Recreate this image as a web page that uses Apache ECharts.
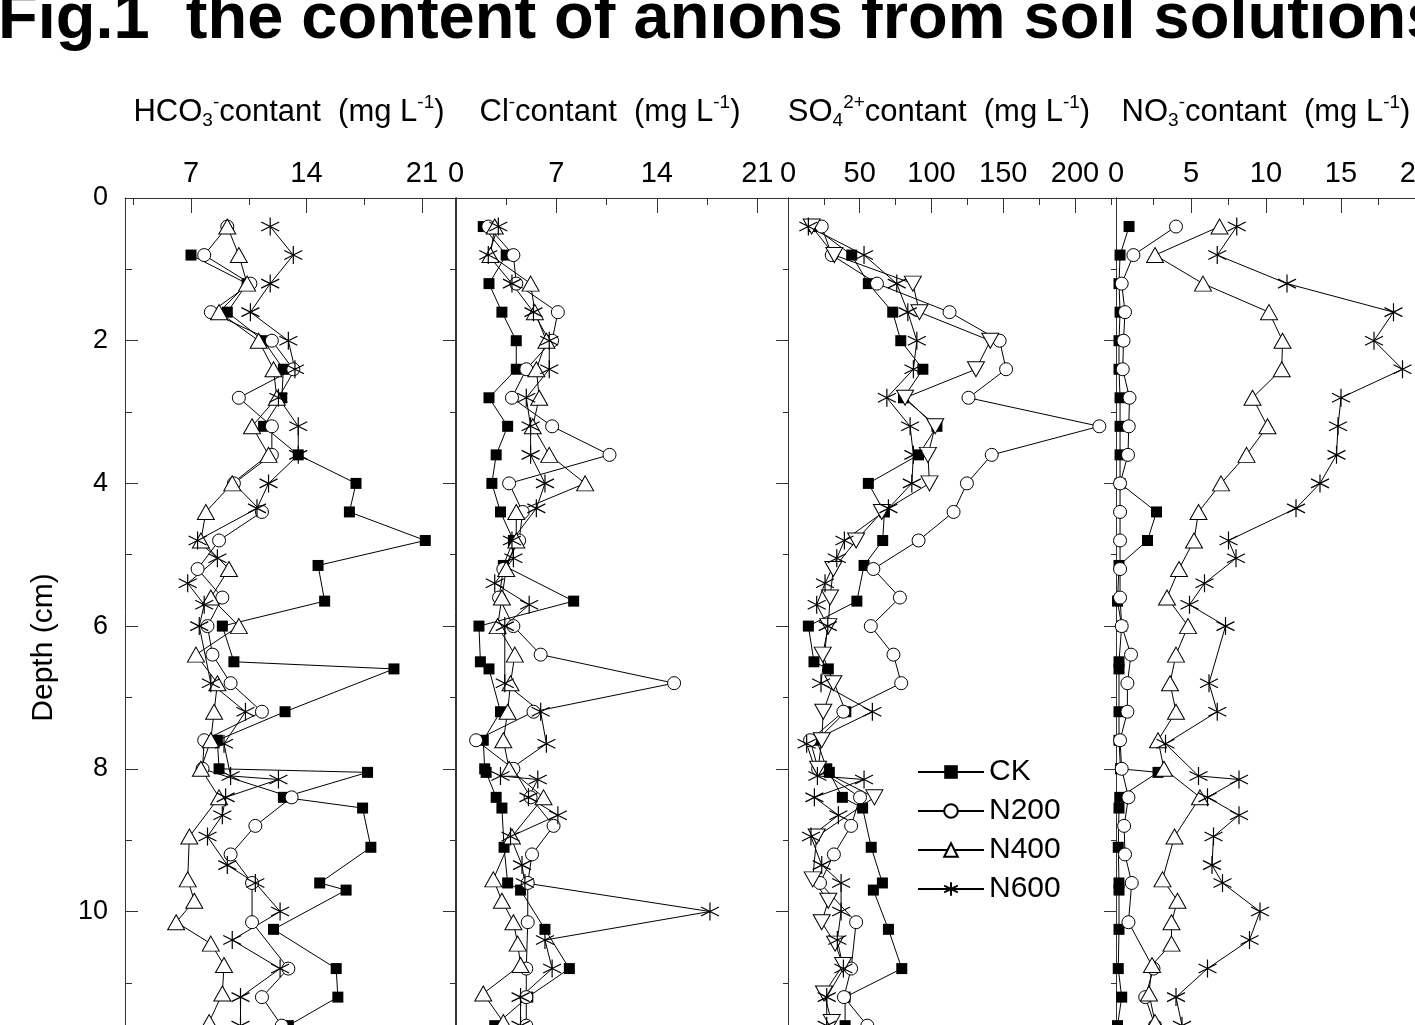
<!DOCTYPE html>
<html>
<head>
<meta charset="utf-8">
<title>anions in soil solution</title>
<script src="https://cdn.jsdelivr.net/npm/echarts@6/dist/echarts.min.js"></script>
<style>
  html, body { margin: 0; padding: 0; background: #fff; }
  #chart { width: 1415px; height: 1025px; }
</style>
</head>
<body>
<div id="chart"></div>
<script>
// sampling depths (cm), one list per treatment
var depthCK = [0.4, 0.8, 1.2, 1.6, 2.0, 2.4, 2.8, 3.2, 3.6, 4.0, 4.4, 4.8, 5.15, 5.65, 6.0, 6.5, 6.6, 7.2, 7.6, 8.0, 8.05, 8.4, 8.55, 9.1, 9.6, 9.7, 10.25, 10.8, 11.2, 11.6]
var depthN200 = [0.4, 0.8, 1.2, 1.6, 2.0, 2.4, 2.8, 3.2, 3.6, 4.0, 4.4, 4.8, 5.2, 5.6, 6.0, 6.4, 6.8, 7.2, 7.6, 8.0, 8.4, 8.8, 9.2, 9.6, 10.15, 10.8, 11.2, 11.6]
var depthN400 = [0.4, 0.8, 1.2, 1.6, 2.0, 2.4, 2.8, 3.2, 3.6, 4.0, 4.4, 4.8, 5.2, 5.6, 6.0, 6.4, 6.8, 7.2, 7.6, 8.0, 8.4, 8.95, 9.55, 9.85, 10.15, 10.45, 10.75, 11.15, 11.55]
var depthN600 = [0.4, 0.8, 1.2, 1.6, 2.0, 2.4, 2.8, 3.2, 3.6, 4.0, 4.35, 4.8, 5.05, 5.4, 5.7, 6.0, 6.8, 7.2, 7.65, 8.1, 8.15, 8.4, 8.65, 8.95, 9.35, 9.6, 10.0, 10.4, 10.8, 11.2, 11.6]

// HCO3- (mg/L)
var hco3CK = [null, 7.0, 10.4, 9.2, 11.4, 12.6, 12.5, 11.4, 13.5, 17.0, 16.6, 21.2, 14.7, 15.1, 8.9, 9.6, 19.3, 12.7, 8.6, 8.7, 17.7, 12.6, 17.4, 17.9, 14.8, 16.4, 12.0, 15.8, 15.9, 12.9]
var hco3N200 = [9.2, 7.8, 10.6, 8.2, 11.9, 13.2, 9.9, 11.9, 11.9, 9.6, 11.3, 8.7, 7.4, 8.9, 8.0, 8.3, 9.4, 11.3, 7.8, 7.7, 13.1, 10.9, 9.4, 10.7, 10.7, 12.9, 11.3, 12.5]
var hco3N400 = [9.2, 9.9, 10.4, 8.7, 11.1, 12.0, 12.2, 10.7, 11.7, 9.5, 7.9, 7.6, 9.3, 8.2, 9.9, 7.3, 8.6, 8.4, 8.2, 7.6, 8.7, 6.9, 6.8, 7.2, 6.1, 8.2, 9.0, 8.9, 8.1]
var hco3N600 = [11.8, 13.2, 11.8, 10.6, 12.9, 13.3, 12.3, 13.5, 13.5, 11.7, 11.0, 7.4, 8.6, 6.8, 7.8, 7.5, 8.2, 10.3, 9.0, 9.4, 12.3, 9.1, 8.9, 8.0, 9.2, 10.9, 12.4, 9.5, 12.4, 10.0, 10.0]

// Cl- (mg/L)
var clCK = [1.9, 3.5, 2.3, 3.2, 4.2, 4.2, 2.3, 3.6, 2.8, 2.5, 3.1, 4.0, 3.3, 8.2, 1.6, 1.7, 2.3, 3.1, 1.9, 2.0, 2.1, 2.8, 3.2, 3.35, 3.6, 4.5, 6.2, 7.9, 5.0, 2.7]
var clN200 = [2.25, 4.0, 4.2, 7.1, 6.7, 4.9, 3.9, 6.7, 10.7, 3.7, 4.65, 4.4, 3.3, 3.0, 4.0, 5.9, 15.2, 5.4, 1.4, 4.0, 5.2, 6.8, 5.3, 5.0, 5.0, 4.9, 4.9, 4.9]
var clN400 = [2.7, 2.4, 5.2, 5.5, 6.3, 5.6, 5.8, 5.35, 6.5, 9.0, 4.2, 4.2, 3.5, 3.2, 2.9, 4.1, 3.8, 3.6, 3.3, 3.7, 6.1, 3.9, 2.6, 3.2, 4.0, 4.3, 4.5, 1.9, 3.3]
var clN600 = [2.95, 2.25, 3.9, 5.4, 6.5, 6.5, 4.9, 5.2, 5.2, 6.2, 5.6, 3.9, 4.0, 2.7, 5.1, 3.4, 3.4, 5.9, 6.3, 3.1, 5.7, 5.05, 7.1, 3.8, 4.6, 4.8, 17.7, 6.2, 6.7, 4.5, 4.5]

// SO4 (mg/L)
var so4CK = [17.7, 44.4, 56, 73, 78.6, 94, 80.5, 103.8, 91, 56, 67.2, 66, 53, 48, 14.2, 18.1, 28.1, 40.3, 20, 27, 28.8, 37.9, 52, 58, 65.8, 59.5, 70, 79.3, 39.8, 39.8]
var so4N200 = [23.5, 30.5, 62, 112.6, 147.5, 152, 125.8, 217, 142, 124.7, 115.4, 91, 59.5, 78, 57.7, 73.5, 78.9, 38.6, 15.4, 21, 50.2, 44, 32, 22.3, 47.5, 44, 39, 55.3]
var so4N400 = [16.5, 32.3, 87, 91.6, 141, 131, 81.6, 102.6, 97.5, 98.6, 65.4, 47.5, 31.6, 29.3, 28.1, 24.2, 31.6, 24.6, 23.5, 21, 60.2, 20, 17.2, 28.1, 23.5, 32.8, 38.4, 25.1, 30.5]
var so4N600 = [14.2, 53, 75.8, 83.5, 89.8, 87.4, 68.9, 85.1, 87.4, 86.3, 70, 39.3, 34, 25.8, 20, 27.7, 23, 58.8, 13, 20.5, 53, 18.4, 35.1, 16, 23.5, 37, 37, 34.4, 38.6, 27, 27]

// NO3- (mg/L)
var no3CK = [0.87, 0.27, 0.2, 0.27, 0.2, 0.2, 0.27, 0.27, 0.27, 0.27, 2.7, 2.1, 0.2, 0.1, 0.38, 0.2, 0.2, 0.2, 0.2, 0.3, 2.8, 0.25, 0.2, 0.15, 0.2, 0.2, 0.2, 0.15, 0.38, 0.1]
var no3N200 = [4.0, 1.16, 0.38, 0.6, 0.5, 0.45, 0.9, 0.85, 0.8, 0.27, 0.27, 0.27, 0.27, 0.27, 0.38, 1.0, 0.76, 0.76, 0.27, 0.38, 0.83, 0.54, 0.6, 1.05, 0.83, 2.5, 1.95, 2.6]
var no3N400 = [6.9, 2.6, 5.8, 10.2, 11.1, 11.05, 9.1, 10.1, 8.7, 7.0, 5.5, 5.2, 4.2, 3.4, 4.8, 4.0, 3.6, 4.0, 2.8, 3.2, 5.6, 3.9, 3.1, 4.1, 3.7, 3.7, 2.4, 2.2, 2.6]
var no3N600 = [8.05, 6.75, 11.4, 18.5, 17.2, 19.1, 15.0, 14.8, 14.7, 13.6, 12.0, 7.5, 8.0, 5.9, 4.9, 7.3, 6.2, 6.75, 3.3, 5.5, 8.2, 6.1, 8.2, 6.5, 6.4, 7.1, 9.6, 8.9, 6.1, 4.0, 4.4]

var treatments = ['CK', 'N200', 'N400', 'N600']

// top axis ticks (labelled / unlabelled)
var hco3Ticks = [7, 14, 21], hco3Minor = [3.5, 10.5, 17.5]
var clTicks = [0, 7, 14, 21], clMinor = [3.5, 10.5, 17.5]
var so4Ticks = [0, 50, 100, 150, 200], so4Minor = [25, 75, 125, 175, 225]
var no3Ticks = [0, 5, 10, 15, 20], no3Minor = [2.5, 7.5, 12.5, 17.5]

var FONT = "'Liberation Sans', Arial, Helvetica, sans-serif"
var AXIS = '#333'
var asterisk = 'path://M10,0L10,20M1.34,5L18.66,15M1.34,15L18.66,5'

var panels = [
  { left: 125, min: 3, max: 23, ticks: hco3Ticks, minor: hco3Minor, vals: [hco3CK, hco3N200, hco3N400, hco3N600],
    title: '{a|HCO}{b|3}{c|-}{a|contant  (mg L}{c|-1}{a|)}', tx: 289 },
  { left: 456, min: 0, max: 23, ticks: clTicks, minor: clMinor, vals: [clCK, clN200, clN400, clN600],
    title: '{a|Cl}{c|-}{a|contant  (mg L}{c|-1}{a|)}', tx: 610 },
  { left: 788, min: 0, max: 230, ticks: so4Ticks, minor: so4Minor, vals: [so4CK, so4N200, so4N400, so4N600],
    title: '{a|SO}{b|4}{c|2+}{a|contant  (mg L}{c|-1}{a|)}', tx: 939 },
  { left: 1116, min: 0, max: 22, ticks: no3Ticks, minor: no3Minor, vals: [no3CK, no3N200, no3N400, no3N600],
    title: '{a|NO}{b|3}{c|-}{a|contant  (mg L}{c|-1}{a|)}', tx: 1266 }
]
var depths = [depthCK, depthN200, depthN400, depthN600]

var richTitle = {
  a: { fontSize: 31, fontFamily: FONT, color: '#000' },
  b: { fontSize: 19, fontFamily: FONT, color: '#000', padding: [18, 0, 0, 0] },
  c: { fontSize: 19, fontFamily: FONT, color: '#000', padding: [0, 0, 18, 0] }
}

function symbolStyle (k, p) {
  if (k === 0) return { symbol: 'rect', symbolSize: 11, itemStyle: { color: '#000' } }
  if (k === 1) return { symbol: 'circle', symbolSize: 13, itemStyle: { color: '#fff', borderColor: '#000', borderWidth: 1 } }
  if (k === 2) return { symbol: 'triangle', symbolSize: [17, 15], symbolRotate: p === 2 ? 180 : 0,
    itemStyle: { color: '#fff', borderColor: '#000', borderWidth: 1 } }
  return { symbol: asterisk, symbolSize: 18, itemStyle: { color: 'rgba(0,0,0,0)', borderColor: '#000', borderWidth: 1.2 } }
}

var grid = [], xAxis = [], yAxis = [], series = [], graphic = []
var yMax = 12.6

panels.forEach(function (p, i) {
  grid.push({ left: p.left, top: 198, width: 330, height: yMax * 71.35, outerBoundsMode: 'none', containLabel: false })
  xAxis.push({
    gridIndex: i, type: 'value', position: 'top', min: p.min, max: p.max,
    axisLine: { show: true, lineStyle: { color: AXIS, width: 1 } },
    axisTick: { inside: true, length: 15, customValues: p.ticks, lineStyle: { color: AXIS } },
    axisLabel: { customValues: p.ticks, fontSize: 29, margin: 10, color: '#000', fontFamily: FONT },
    splitLine: { show: false }
  })
  xAxis.push({
    gridIndex: i, type: 'value', position: 'top', min: p.min, max: p.max,
    axisLine: { show: false },
    axisTick: { inside: true, length: 7, customValues: p.minor, lineStyle: { color: AXIS } },
    axisLabel: { show: false },
    splitLine: { show: false }
  })
  yAxis.push({
    gridIndex: i, type: 'value', inverse: true, min: 0, max: yMax, interval: 2, position: 'left',
    axisLine: { show: true, lineStyle: { color: AXIS, width: 1 } },
    axisTick: { show: i === 0, inside: true, length: 13, lineStyle: { color: AXIS } },
    minorTick: { show: i === 0, splitNumber: 2, length: 7, lineStyle: { color: AXIS } },
    axisLabel: { show: i === 0, fontSize: 27, margin: 17, color: '#000', fontFamily: FONT,
      formatter: function (v) { return v > 12 ? '' : v } },
    splitLine: { show: false },
    name: i === 0 ? 'Depth (cm)' : '',
    nameLocation: 'middle', nameGap: 66,
    nameTextStyle: { fontSize: 30, color: '#000', fontFamily: FONT }
  })
  yAxis.push({
    gridIndex: i, type: 'value', inverse: true, min: 0, max: yMax, interval: 2, position: 'right',
    axisLine: { show: true, lineStyle: { color: AXIS, width: 1 } },
    axisTick: { show: true, inside: true, length: 12, lineStyle: { color: AXIS } },
    minorTick: { show: true, splitNumber: 2, length: 5, lineStyle: { color: AXIS } },
    axisLabel: { show: false },
    splitLine: { show: false }
  })
  treatments.forEach(function (name, k) {
    var vals = p.vals[k]
    var data = depths[k].map(function (d, j) { return [vals[j], d] })
      .filter(function (pt) { return pt[0] != null })
    series.push(Object.assign({
      name: name, type: 'line', xAxisIndex: 2 * i, yAxisIndex: 2 * i,
      data: data,
      showAllSymbol: true,
      lineStyle: { color: '#000', width: 1 },
      emphasis: { disabled: true },
      animation: false
    }, symbolStyle(k, i)))
  })
  graphic.push({
    type: 'text', x: p.tx, y: 112,
    style: { text: p.title, rich: richTitle, align: 'center', verticalAlign: 'middle' }
  })
})

graphic.push({
  type: 'text', x: -2, y: 20,
  style: { text: 'Fig.1  the content of anions from soil solutions', fontSize: 65, fontWeight: 'bold',
    fontFamily: FONT, fill: '#000', align: 'left', verticalAlign: 'middle' }
})

var chart = echarts.init(document.getElementById('chart'))
chart.setOption({
  backgroundColor: '#fff',
  animation: false,
  grid: grid,
  xAxis: xAxis,
  yAxis: yAxis,
  legend: {
    data: treatments,
    orient: 'vertical',
    left: 912, top: 752,
    itemWidth: 66, itemHeight: 17, itemGap: 9,
    selectedMode: false,
    textStyle: { fontSize: 30, color: '#000', fontFamily: FONT }
  },
  graphic: graphic,
  series: series
})
</script>
</body>
</html>
